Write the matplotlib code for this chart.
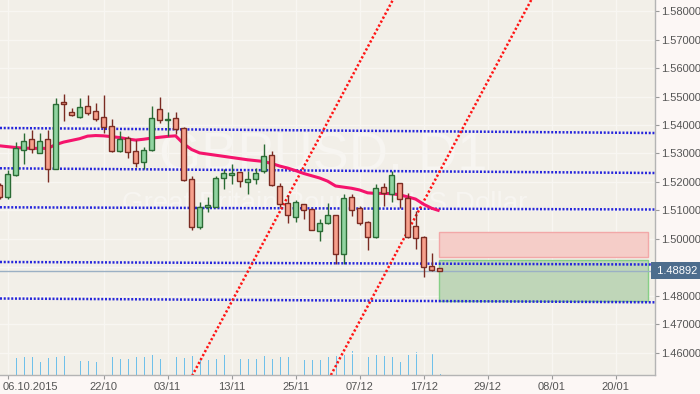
import matplotlib
matplotlib.use("Agg")
import matplotlib.pyplot as plt
import matplotlib.transforms as mtransforms
from matplotlib.patches import Rectangle

plt.rcParams['font.family'] = ['Liberation Sans', 'DejaVu Sans']

# daily GBPUSD bars, index 0 = 06.10.2015 (index -1 is the partly hidden bar)
idx = list(range(-1, 55))
opens = [1.51895, 1.51463, 1.52235, 1.53133, 1.53498, 1.53007, 1.53498, 1.52467, 1.54797,
         1.54446, 1.54270, 1.54656, 1.54481, 1.54270, 1.53954, 1.53077, 1.53533, 1.53077,
         1.52691, 1.53112, 1.54551, 1.54165, 1.54235, 1.53884, 1.52095, 1.50410, 1.51133,
         1.51133, 1.52130, 1.52256, 1.52340, 1.51990, 1.52095, 1.52375, 1.52937, 1.51849,
         1.51253, 1.50762, 1.51217, 1.51042, 1.50270, 1.50551, 1.50832, 1.49484, 1.51463,
         1.51077, 1.50586, 1.50060, 1.51814, 1.51568, 1.51954, 1.51428, 1.50446, 1.50060,
         1.49042, 1.48972]
highs = [1.51965, 1.52421, 1.53393, 1.53719, 1.53825, 1.53719, 1.53825, 1.54937, 1.55088,
         1.54586, 1.54937, 1.55053, 1.54761, 1.55053, 1.54200, 1.53779, 1.53604, 1.53463,
         1.53218, 1.54667, 1.54982, 1.54446, 1.54446, 1.53920, 1.52200, 1.51288, 1.51463,
         1.52200, 1.52446, 1.52621, 1.52350, 1.52375, 1.52481, 1.53323, 1.53077, 1.51954,
         1.51533, 1.51358, 1.51230, 1.51050, 1.50691, 1.51253, 1.50850, 1.51579, 1.51568,
         1.51147, 1.50621, 1.51930, 1.51975, 1.52375, 1.51960, 1.51603, 1.50972, 1.50095,
         1.49498, 1.48980]
lows = [1.51404, 1.51414, 1.52220, 1.52642, 1.53007, 1.53000, 1.52011, 1.52460, 1.54151,
        1.54330, 1.54260, 1.54361, 1.54130, 1.53709, 1.53070, 1.53070, 1.52832, 1.52516,
        1.52446, 1.53100, 1.54060, 1.53604, 1.53674, 1.52050, 1.50305, 1.50340, 1.50937,
        1.51120, 1.51765, 1.51919, 1.51835, 1.51568, 1.51919, 1.52310, 1.51849, 1.51112,
        1.50572, 1.50586, 1.50691, 1.50300, 1.49940, 1.50516, 1.49112, 1.49112, 1.50796,
        1.50481, 1.49603, 1.50050, 1.51147, 1.51288, 1.51077, 1.50025, 1.49639, 1.48677,
        1.48867, 1.48880]
closes = [1.51463, 1.52270, 1.53182, 1.53428, 1.53168, 1.53428, 1.52467, 1.54726, 1.54747,
          1.54340, 1.54621, 1.54411, 1.54200, 1.53919, 1.53077, 1.53498, 1.53042, 1.52656,
          1.53112, 1.54235, 1.54165, 1.54200, 1.53849, 1.52060, 1.50410, 1.51112, 1.51183,
          1.52130, 1.52305, 1.52305, 1.52025, 1.52095, 1.52305, 1.52902, 1.51884, 1.51217,
          1.50832, 1.51288, 1.51007, 1.50305, 1.50551, 1.50832, 1.49484, 1.51428, 1.51007,
          1.50551, 1.50060, 1.51779, 1.51603, 1.52235, 1.51393, 1.50060, 1.50025, 1.49007,
          1.48902, 1.48892]
volumes = [0, 15, 17, 18, 18, 13, 17, 18, 19, 0, 14, 14, 13, 14, 18, 16, 16, 18, 18, 20,
           16, 16, 18, 17, 19, 17, 15, 16, 20, 17, 16, 16, 16, 19, 16, 18, 18, 19, 15, 15,
           15, 18, 19, 20, 24, 15, 18, 20, 19, 18, 13, 20, 23, 21, 21, 1]
ma = [1.5327, 1.5324, 1.5321, 1.5319, 1.5318, 1.5318, 1.5318, 1.5331, 1.5340, 1.5346,
      1.5352, 1.5361, 1.5363, 1.5362, 1.5359, 1.5356, 1.5351, 1.5347, 1.5350, 1.5354,
      1.5357, 1.5360, 1.5362, 1.5334, 1.5314, 1.5302, 1.5298, 1.5294, 1.5290, 1.5286,
      1.5282, 1.5278, 1.5275, 1.5272, 1.5265, 1.5256, 1.5249, 1.5240, 1.5230, 1.5222,
      1.5214, 1.5203, 1.5186, 1.5182, 1.5178, 1.5172, 1.5162, 1.5160, 1.5160, 1.5159,
      1.5155, 1.5148, 1.5140, 1.5122, 1.5108, 1.5099]

date_ticks = [0, 12, 20, 28, 36, 44, 52, 60, 68, 76]
date_labels = ["06.10.2015", "22/10", "03/11", "13/11", "25/11", "07/12", "17/12",
               "29/12", "08/01", "20/01"]
price_ticks = [1.46, 1.47, 1.48, 1.49, 1.50, 1.51, 1.52, 1.53, 1.54, 1.55, 1.56, 1.57, 1.58]

# horizontal levels (start bar, start price, end bar, end price)
levels = [(-0.95, 1.53895, 80.86, 1.53719),
          (-0.95, 1.52481, 80.86, 1.52316),
          (-0.95, 1.51112, 80.86, 1.51035),
          (-0.95, 1.49193, 80.86, 1.49105),
          (-0.95, 1.47912, 80.86, 1.47779)]
# rising channel
channel = [(22, 1.44639, 50, 1.59359),
           (39, 1.44482, 67, 1.59201)]
stop_box = (53.96, 80.0, 1.49358, 1.50256)
target_box = (53.96, 80.0, 1.47825, 1.49263)
last_price = 1.48892

bg = '#f2efe8'
fig = plt.figure(figsize=(7, 3.94), dpi=100, facecolor='#fcf7f5')
pos = [0, 19 / 394, 654.5 / 700, 375 / 394]
xlim = (-0.95, 80.86)

axv = fig.add_axes(pos)
axv.set_facecolor(bg)
axv.set_xlim(*xlim)
axv.set_ylim(0, max(volumes) * 375 / 24)
axv.vlines(idx, 0, volumes, color='#6fc0ea', lw=0.72, antialiased=False)
axv.set_xticks([])
axv.set_yticks([])
for s in axv.spines.values():
    s.set_visible(False)

ax = fig.add_axes(pos)
ax.set_facecolor('none')
ax.set_xlim(*xlim)
ax.set_ylim(1.45228, 1.58386)

for t in date_ticks:
    ax.axvline(t, color='#f8f6f2', lw=1, zorder=0)
for p in price_ticks:
    ax.axhline(p, color='#f8f6f2', lw=1, zorder=0)

ax.text(0.4935, 0.583, "GBPUSD, D1", transform=ax.transAxes, fontsize=39,
        color='#f7f5f1', ha='center', va='center', zorder=0.5)
ax.text(0.4965, 0.455, "Great Britain Pound vs US Dollar", transform=ax.transAxes,
        fontsize=20, color='#f7f5f1', ha='center', va='center', zorder=0.5)

x0, x1, lo, hi = stop_box
ax.add_patch(Rectangle((x0, lo), x1 - x0, hi - lo, facecolor='#f5cdc8',
                       edgecolor='#f2a8a8', lw=1, zorder=1))
x0, x1, lo, hi = target_box
ax.add_patch(Rectangle((x0, lo), x1 - x0, hi - lo, facecolor='#bfd6b8',
                       edgecolor='#86cf86', lw=1, zorder=1))

ax.axhline(last_price, color='#9bb0c4', lw=1, zorder=1.5)

for a, p1, b, p2 in levels:
    ax.plot([a, b], [p1, p2], color='#2626dc', lw=1.8, ls=(0, (0.8, 0.7)), zorder=2)
for a, p1, b, p2 in channel:
    ax.plot([a, b], [p1, p2], color='#ff1414', lw=1.8, ls=(0, (0.9, 0.9)), zorder=2)

ax.plot(idx, ma, color='#f5146c', lw=2.2, zorder=3, solid_capstyle='butt')

up = [c >= o for o, c in zip(opens, closes)]
edge = ['#2b6b35' if u else '#7a2b22' for u in up]
fill = ['#90d4a0' if u else '#f7a08c' for u in up]
ax.vlines(idx, lows, highs, colors=edge, lw=1, zorder=4)
body = [max(abs(c - o), 0.00004) for o, c in zip(opens, closes)]
bottom = [min(o, c) for o, c in zip(opens, closes)]
ax.bar(idx, body, bottom=bottom, width=0.62, color=fill, edgecolor=edge, lw=1, zorder=5)

ax.yaxis.tick_right()
ax.set_yticks(price_ticks)
# 1.49000 sits under the last-price tag, so it is not shown
ax.set_yticklabels(["" if abs(p - 1.49) < 1e-9 else f"{p:.5f}" for p in price_ticks])
ax.set_xticks(date_ticks)
ax.set_xticklabels(date_labels)
ax.tick_params(axis='y', length=3, width=0.8, color='#9a9a9a', labelsize=8,
               labelcolor='#555555', pad=2)
ax.tick_params(axis='x', length=3, width=0.8, color='#9a9a9a', labelsize=8,
               labelcolor='#555555', pad=2)
first = ax.get_xticklabels()[0]
first.set_horizontalalignment('left')
first.set_transform(first.get_transform() +
                    mtransforms.ScaledTranslation(-5 / 100, 0, fig.dpi_scale_trans))
for s in ['left', 'top']:
    ax.spines[s].set_visible(False)
for s in ['right', 'bottom']:
    ax.spines[s].set_color('#b4b4b4')
    ax.spines[s].set_linewidth(1)

ax.text(1.0, last_price, f" {last_price:.5f}", transform=ax.get_yaxis_transform(),
        fontsize=8, color='white', ha='left', va='center', zorder=10, clip_on=False,
        bbox=dict(boxstyle='square,pad=0.3', facecolor='#4d6d8d', edgecolor='none'))

fig.savefig('out.png', dpi=100, facecolor=fig.get_facecolor())
